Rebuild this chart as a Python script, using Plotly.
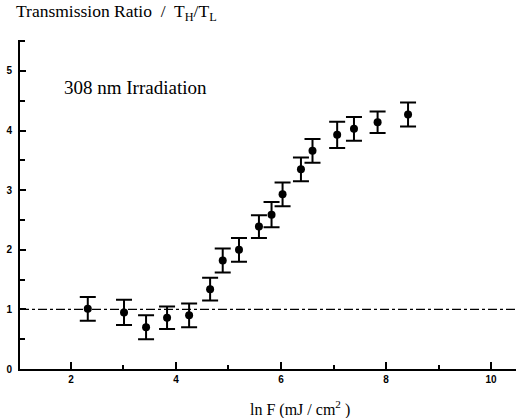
import plotly.graph_objects as go

ln_F = [2.32, 3.01, 3.43, 3.83, 4.25, 4.65, 4.89, 5.20, 5.58, 5.82, 6.03, 6.38, 6.60, 7.07, 7.39, 7.84, 8.42]
ratio = [1.01, 0.95, 0.70, 0.86, 0.90, 1.34, 1.82, 2.00, 2.39, 2.59, 2.93, 3.35, 3.66, 3.93, 4.03, 4.14, 4.27]
err = [0.20, 0.21, 0.20, 0.19, 0.20, 0.19, 0.20, 0.20, 0.19, 0.21, 0.20, 0.20, 0.20, 0.22, 0.20, 0.18, 0.20]
baseline = 1.0
x_ticks = [2, 4, 6, 8, 10]
y_ticks = [0, 1, 2, 3, 4, 5]

fig = go.Figure()
fig.add_trace(go.Scatter(
    x=ln_F, y=ratio, mode="markers",
    marker=dict(color="black", size=8),
    error_y=dict(type="data", array=err, color="black", thickness=2, width=8),
    showlegend=False,
))
fig.add_hline(y=baseline, line=dict(color="black", width=1.2, dash="dashdot"))

serif = "Liberation Serif"
tickfont = dict(family="Liberation Sans", size=10, color="black", weight="bold")

fig.update_layout(
    width=516, height=418,
    margin=dict(l=20, r=0, t=40, b=49),
    paper_bgcolor="white", plot_bgcolor="white",
    xaxis=dict(
        range=[1.029, 10.476], tickvals=x_ticks, ticks="inside", ticklen=7, tickwidth=1.5,
        tickcolor="black", showline=True, linecolor="black", linewidth=2,
        showgrid=False, zeroline=False, tickfont=tickfont,
        minor=dict(dtick=1, tick0=0, ticks="inside", ticklen=4, tickcolor="black", tickwidth=1.5, showgrid=False),
    ),
    yaxis=dict(
        range=[0, 5.52], tickvals=y_ticks, ticks="inside", ticklen=6, tickwidth=1.5,
        tickcolor="black", showline=True, linecolor="black", linewidth=2,
        showgrid=False, zeroline=False, tickfont=tickfont, ticklabelstandoff=4,
        minor=dict(dtick=0.5, tick0=0, ticks="inside", ticklen=5, tickcolor="black", tickwidth=1.5, showgrid=False),
    ),
    annotations=[
        dict(text="Transmission Ratio  /  T<sub>H</sub>/T<sub>L</sub>", xref="paper", yref="paper",
             x=-0.012, y=1.0, yshift=28, xanchor="left", yanchor="middle", showarrow=False,
             font=dict(family=serif, size=17.5, color="black")),
        dict(text="308 nm Irradiation", xref="paper", yref="paper",
             x=0.085, y=0.855, xanchor="left", yanchor="middle", showarrow=False,
             font=dict(family=serif, size=19, color="black")),
        dict(text="ln F (mJ / cm<sup>2</sup> )", xref="paper", yref="paper",
             x=0.565, y=0, yshift=-39, xanchor="center", yanchor="middle", showarrow=False,
             font=dict(family=serif, size=16, color="black")),
    ],
)

fig.write_html("out.html")
